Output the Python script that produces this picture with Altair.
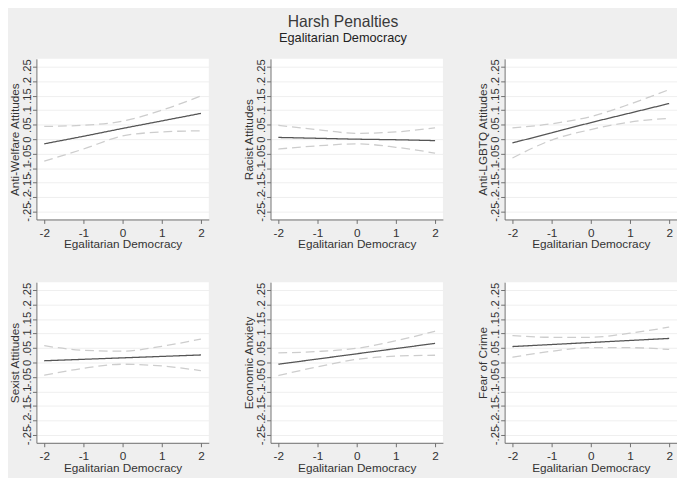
import altair as alt
import pandas as pd

x_vals = [-2, -1, 0, 1, 2]
panels = ["Anti-Welfare Attitudes", "Racist Attitudes", "Anti-LGBTQ Attitudes",
          "Sexist Attitudes", "Economic Anxiety", "Fear of Crime"]
est = [
    [-0.016, 0.010, 0.037, 0.063, 0.089],
    [0.006, 0.003, 0.000, -0.002, -0.005],
    [-0.013, 0.022, 0.057, 0.090, 0.123],
    [0.006, 0.011, 0.016, 0.021, 0.026],
    [-0.006, 0.012, 0.030, 0.048, 0.066],
    [0.055, 0.062, 0.069, 0.076, 0.083],
]
upper = [
    [0.044, 0.048, 0.062, 0.100, 0.149],
    [0.048, 0.033, 0.020, 0.025, 0.039],
    [0.039, 0.053, 0.078, 0.121, 0.171],
    [0.058, 0.042, 0.039, 0.056, 0.081],
    [0.033, 0.038, 0.049, 0.075, 0.108],
    [0.093, 0.087, 0.087, 0.101, 0.122],
]
lower = [
    [-0.076, -0.034, 0.011, 0.025, 0.029],
    [-0.034, -0.023, -0.016, -0.028, -0.048],
    [-0.065, -0.003, 0.033, 0.059, 0.072],
    [-0.044, -0.020, -0.006, -0.012, -0.028],
    [-0.045, -0.015, 0.011, 0.022, 0.025],
    [0.018, 0.039, 0.051, 0.051, 0.045],
]
y_ticks = [-0.25, -0.2, -0.15, -0.1, -0.05, 0, 0.05, 0.1, 0.15, 0.2, 0.25]
x_title = "Egalitarian Democracy"

rows = []
for p, e, u, l in zip(panels, est, upper, lower):
    for i, x in enumerate(x_vals):
        rows.append({"panel": p, "x": x, "est": e[i], "hi": u[i], "lo": l[i]})
df = pd.DataFrame(rows)

y_label_expr = ("(datum.value < 0 ? '-' : '') + "
                "replace(format(abs(datum.value), '.2~f'), '0.', '.')")
x_label_expr = "(datum.value < 0 ? '-' : '') + format(abs(datum.value), 'd')"

FONT = "Liberation Sans"


def panel(name):
    return (
        alt.Chart(df)
        .transform_filter(alt.datum.panel == name)
        .transform_fold(["hi", "lo", "est"], as_=["series", "val"])
        .mark_line(strokeWidth=1.3, interpolate="monotone")
        .encode(
            x=alt.X("x:Q",
                    scale=alt.Scale(domain=[-2.2, 2.2], nice=False, zero=False),
                    axis=alt.Axis(values=x_vals, title=x_title, grid=False,
                                  labelExpr=x_label_expr, labelFontSize=12,
                                  titleFontSize=12, labelPadding=4, titlePadding=1,
                                  tickSize=4)),
            y=alt.Y("val:Q",
                    scale=alt.Scale(domain=[-0.277, 0.277], nice=False, zero=False),
                    axis=alt.Axis(values=y_ticks, title=name, labelExpr=y_label_expr,
                                  labelAngle=-90, labelAlign="center",
                                  labelBaseline="bottom", labelOverlap=False,
                                  labelFontSize=11.5, titleFontSize=12,
                                  labelPadding=0, titlePadding=0, tickSize=4,
                                  grid=True)),
            color=alt.Color("series:N", legend=None,
                            scale=alt.Scale(domain=["est", "hi", "lo"],
                                            range=["#555555", "#cdcdcd", "#cdcdcd"])),
            strokeDash=alt.StrokeDash("series:N", legend=None,
                                      scale=alt.Scale(domain=["est", "hi", "lo"],
                                                      range=[[1, 0], [9, 5], [9, 5]])),
            detail="series:N",
        )
        .properties(width=176, height=164)
    )


row1 = alt.hconcat(*[panel(p) for p in panels[:3]], spacing=34)
row2 = alt.hconcat(*[panel(p) for p in panels[3:]], spacing=34)

chart = (
    alt.vconcat(row1, row2, spacing=32)
    .properties(
        title=alt.TitleParams("Harsh Penalties", subtitle="Egalitarian Democracy",
                              anchor="middle", fontSize=16, subtitleFontSize=13,
                              font=FONT, subtitleFont=FONT, color="#3a3a3a",
                              subtitleColor="#222222", fontWeight="normal",
                              subtitlePadding=3, offset=14),
        padding=0,
    )
    .configure(background="#efefef")
    .configure_view(fill="white", strokeWidth=0)
    .configure_axis(domainColor="#6e6e6e", tickColor="#6e6e6e", gridColor="#efefef",
                    labelColor="#333333", titleColor="#333333", labelFont=FONT,
                    titleFont=FONT, titleFontWeight="normal")
)

chart.save("out.html", embed_options={"renderer": "svg", "actions": False})
